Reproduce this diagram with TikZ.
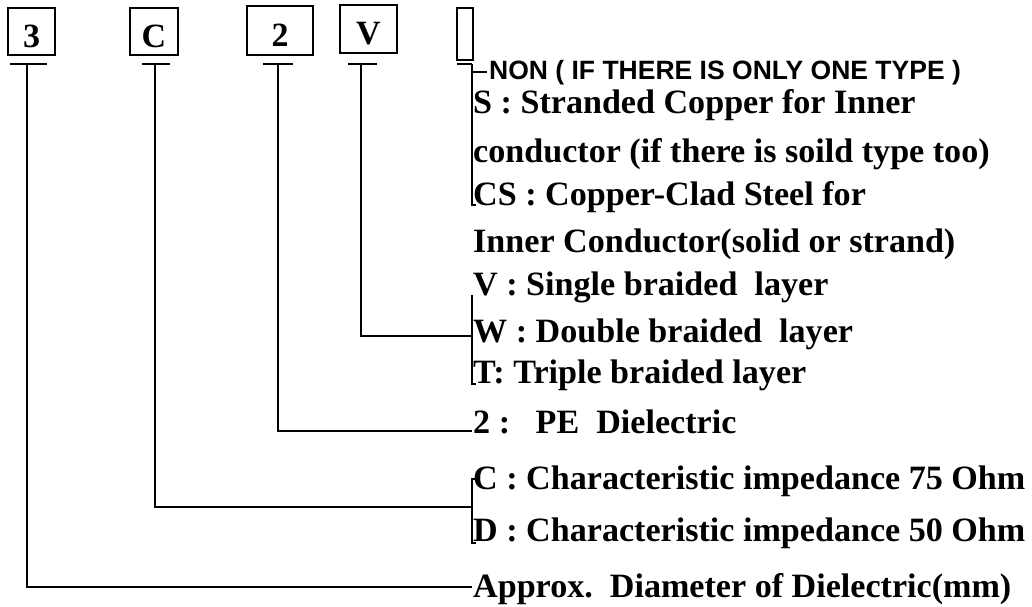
\documentclass[tikz,border=0pt]{standalone}
\usepackage{fontspec}
\setmainfont{Liberation Serif}
\newfontfamily\nonfont{Liberation Sans}
\usetikzlibrary{positioning}

\begin{document}
\begin{tikzpicture}[
        x=1pt, y=-1pt,
        wire/.style={line width=1.5pt},
        box/.style={draw, line width=1.4pt, inner sep=0pt, text height=31pt, text depth=0pt,
                    font=\fontsize{34}{36}\selectfont\bfseries},
        lbl/.style={anchor=base west, inner sep=0pt, font=\fontsize{34.1}{40}\selectfont\bfseries},
        note/.style={anchor=base west, inner sep=0pt, font=\nonfont\fontsize{26.5}{30}\selectfont\bfseries}
    ]
        \useasboundingbox (0,0) rectangle (1032,606);

        % code boxes
        \node[box, minimum width=47pt, minimum height=47pt] (b3) at (31.5,31.5) {3};
        \node[box, minimum width=48pt, minimum height=47pt] (bC) at (154,31.5)  {C};
        \node[box, minimum width=66pt, minimum height=49pt] (b2) at (280,30.5)  {2};
        \node[box, minimum width=57pt, minimum height=48pt] (bV) at (368.5,29)  {V};
        \node[box, minimum width=16pt, minimum height=52pt] (bX) at (465,34)    {};

        % stems under the boxes
        \coordinate (s3) at (27,64);
        \coordinate (sC) at (155,64);
        \coordinate (s2) at (278,64);
        \coordinate (sV) at (361,64);
        \coordinate (sX) at (472,64);

        % joints on the bracket column
        \coordinate (jX)   at (472,205);
        \coordinate (jNon) at (472,72);
        \coordinate (jV)   at (472,336);
        \coordinate (jPE)  at (472,431);
        \coordinate (jC)   at (472,507);
        \coordinate (jApx) at (472,587);

        % texts
        \node[note] (lNon) at (489,79)  {NON ( IF THERE IS ONLY ONE TYPE )};
        \node[lbl]  (lS)   at (473,113) {S : Stranded Copper for Inner};
        \node[lbl]  (lS2)  at (473,162) {conductor (if there is soild type too)};
        \node[lbl]  (lCS)  at (473,205) {CS : Copper-Clad Steel for};
        \node[lbl]  (lCS2) at (473,252) {Inner Conductor(solid or strand)};
        \node[lbl]  (lV)   at (473,295) {V : Single braided\ \ layer};
        \node[lbl]  (lW)   at (473,342) {W : Double braided\ \ layer};
        \node[lbl]  (lT)   at (473,383) {T: Triple braided layer};
        \node[lbl]  (lPE)  at (473,433) {2 :\ \ \ PE\ \ Dielectric};
        \node[lbl]  (lC)   at (473,489) {C : Characteristic impedance 75 Ohm};
        \node[lbl]  (lD)   at (473,541) {D : Characteristic impedance 50 Ohm};
        \node[lbl]  (lApx) at (473,597) {Approx.\ \ Diameter of Dielectric(mm)};

        % ticks
        \draw[wire] (10,64)  -- (47,64);
        \draw[wire] (142,64) -- (170,64);
        \draw[wire] (263,64) -- (293,64);
        \draw[wire] (348,64) -- (377,64);
        \draw[wire] (457,64) -- (sX);

        % connectors
        \draw[wire] (s3) |- (jApx);
        \draw[wire] (sC) |- (jC);
        \draw[wire] (s2) |- (jPE);
        \draw[wire] (sV) |- (jV);
        \draw[wire] (sX) -- (jX) -- ++(4,0);
        \draw[wire] (jNon) -- (487,72);

        % brackets
        \draw[wire] (472,295) -- (472,384) -- ++(4,0);
        \draw[wire] (476,479) -- (472,479) -- (472,543) -- ++(4,0);
    \end{tikzpicture}
\end{document}
